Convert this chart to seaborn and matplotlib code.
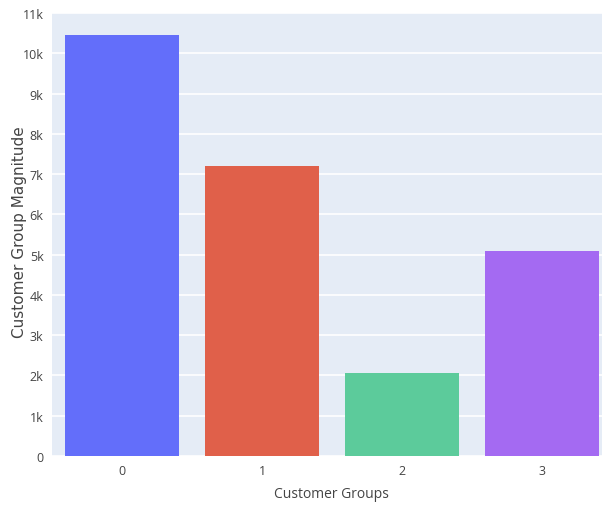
import matplotlib
matplotlib.use("Agg")
import matplotlib.pyplot as plt
import seaborn as sns
import pandas as pd

groups = ["0", "1", "2", "3"]
magnitudes = [10450, 7200, 2070, 5100]
bar_colors = ["#636EFA", "#E0604A", "#5CCB9B", "#A46AF2"]
y_ticks = list(range(0, 12000, 1000))
y_tick_labels = ["0"] + [f"{v // 1000}k" for v in y_ticks[1:]]

df = pd.DataFrame({"Customer Groups": groups, "Magnitude": magnitudes})

sns.set_theme(style="white")
plt.rcParams["font.family"] = ["Open Sans", "DejaVu Sans"]

fig = plt.figure(figsize=(6.02, 5.10), dpi=100)
ax = fig.add_axes([52 / 602, 1 - 457 / 510, 560 / 602, 443 / 510])
ax.set_facecolor("#E5ECF6")

sns.barplot(data=df, x="Customer Groups", y="Magnitude", hue="Customer Groups",
            palette=bar_colors, width=0.82, legend=False, ax=ax, saturation=1,
            linewidth=0)

ax.set_ylim(0, 11000)
ax.set_xlim(-0.5, 3.5)
ax.set_yticks(y_ticks)
ax.set_yticklabels(y_tick_labels)
ax.yaxis.grid(True, color="white", linewidth=1.2)
ax.set_axisbelow(True)
for s in ax.spines.values():
    s.set_visible(False)
ax.tick_params(axis="both", length=0, labelsize=9, colors="#444444", pad=6)

ax.set_xlabel("Customer Groups", fontsize=10, color="#444444")
ax.xaxis.set_label_coords((331 - 52) / 560, -(495 - 457) / 443)
ax.xaxis.label.set_va("center")
ax.set_ylabel("")
fig.text(20 / 602, 1 - 232 / 510, "Customer Group Magnitude", rotation=90,
         ha="center", va="center", fontsize=11, color="#444444",
         family=["DejaVu Sans"])

fig.savefig("out.png", dpi=100)
